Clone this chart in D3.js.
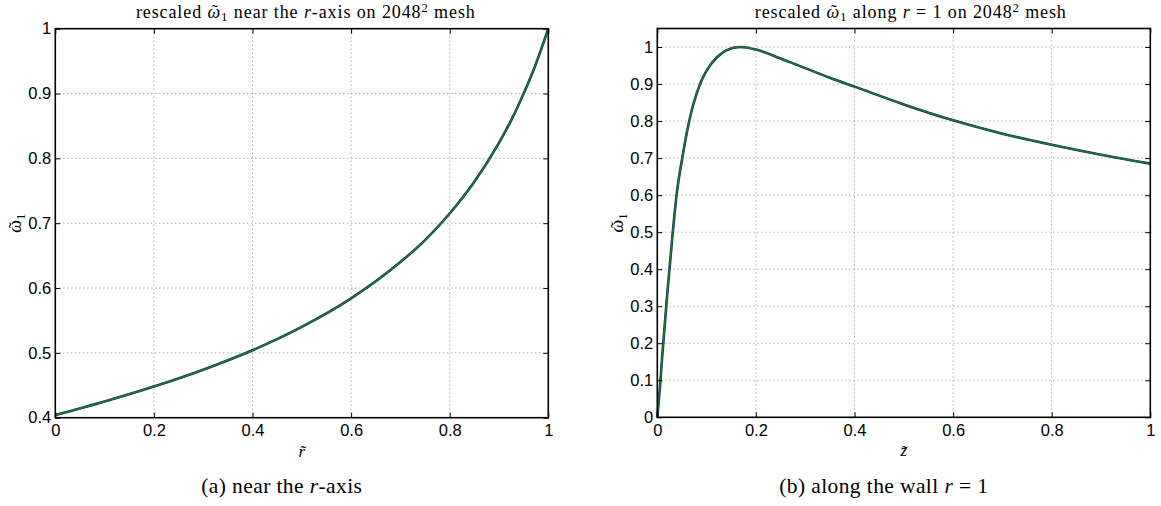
<!DOCTYPE html>
<html>
<head>
<meta charset="utf-8">
<script src="https://cdn.jsdelivr.net/npm/d3@7"></script>
<style>
  body { margin: 0; background: #fff; }
  .tick-label { font-family: "Liberation Sans", Arial, sans-serif; font-size: 16.5px; fill: #000; }
  .tex { font-family: "Liberation Serif", "DejaVu Serif", serif; fill: #000; }
</style>
</head>
<body>
<svg id="chart" width="1161" height="506"></svg>
<script>
// panel (a): rescaled omega_1 near the r-axis
const rAxisR = [0, 0.1, 0.2, 0.3, 0.4, 0.5, 0.6, 0.7, 0.75, 0.8, 0.85, 0.9, 0.925, 0.95, 0.975, 1.0];
const rAxisW = [0.404, 0.425, 0.448, 0.474, 0.504, 0.540, 0.584, 0.640, 0.674, 0.715, 0.764, 0.824, 0.859, 0.900, 0.946, 1.0];

// panel (b): rescaled omega_1 along the wall r = 1
const wallZ = [0, 0.005, 0.01, 0.02, 0.03, 0.04, 0.05, 0.06, 0.07, 0.08, 0.09, 0.1, 0.12, 0.14, 0.168,
               0.2, 0.25, 0.3, 0.35, 0.4, 0.5, 0.6, 0.7, 0.8, 0.9, 1.0];
const wallW = [0, 0.075, 0.165, 0.33, 0.48, 0.61, 0.695, 0.77, 0.83, 0.875, 0.91, 0.936, 0.971, 0.991, 1.0,
               0.993, 0.969, 0.943, 0.917, 0.893, 0.845, 0.802, 0.766, 0.736, 0.709, 0.685];

const xTicks = [0, 0.2, 0.4, 0.6, 0.8, 1];
const yTicksA = [0.4, 0.5, 0.6, 0.7, 0.8, 0.9, 1];
const yTicksB = [0, 0.1, 0.2, 0.3, 0.4, 0.5, 0.6, 0.7, 0.8, 0.9, 1];

const svg = d3.select("#chart");
const fmt = d => d === 0 ? "0" : d === 1 ? "1" : String(+d.toFixed(1));

// append tex-like pieces as tspans; {omega:true} draws ω with a tilde on top and subscript 1
function richText(sel, parts, fs) {
  let shift = 0;
  parts.forEach(p => {
    if (p.omega) {
      const om = sel.append("tspan").attr("font-style", "italic").attr("dy", -shift).text("ω");
      shift = 0;
      const wo = om.node().getComputedTextLength();
      const ti = sel.append("tspan").text("˜");
      const wt = ti.node().getComputedTextLength();
      ti.attr("dx", -(wo + wt) / 2 + fs * 0.06).attr("dy", fs * 0.02);
      sel.append("tspan").attr("font-size", fs * 0.72)
        .attr("dx", (wo - wt) / 2 - fs * 0.06).attr("dy", fs * 0.2 - fs * 0.02).text("1");
      shift = fs * 0.2;
      return;
    }
    const t = sel.append("tspan").text(p.t);
    let dy = -shift;
    shift = 0;
    if (p.i) t.attr("font-style", "italic");
    if (p.sup) { t.attr("font-size", fs * 0.7); dy -= fs * 0.32; shift = -fs * 0.32; }
    if (dy) t.attr("dy", dy);
  });
}

function drawPanel(p) {
  const g = svg.append("g").attr("transform", `translate(${p.left},${p.top})`);
  const w = p.width, h = p.height;

  const x = d3.scaleLinear().domain([0, 1]).range([0, w]);
  const y = d3.scaleLinear().domain(p.yDomain).range([h, 0]);

  // grid
  g.append("g").selectAll("line")
    .data(xTicks.filter(t => t > 0 && t < 1))
    .join("line")
    .attr("x1", d => x(d)).attr("x2", d => x(d))
    .attr("y1", 0).attr("y2", h)
    .attr("stroke", "#888").attr("stroke-width", 1)
    .attr("stroke-dasharray", "1,3");

  g.append("g").selectAll("line")
    .data(p.yTicks.filter(t => t > p.yDomain[0] && t < p.yDomain[1]))
    .join("line")
    .attr("x1", 0).attr("x2", w)
    .attr("y1", d => y(d)).attr("y2", d => y(d))
    .attr("stroke", "#888").attr("stroke-width", 1)
    .attr("stroke-dasharray", "1,3");

  // curve: two overlapping solutions
  const line = d3.line()
    .x((d, i) => x(p.xs[i]))
    .y(d => y(d))
    .curve(d3.curveMonotoneX);

  g.append("path").datum(p.ys)
    .attr("d", line).attr("fill", "none")
    .attr("stroke", "#1b2a5c").attr("stroke-width", 2.6);
  g.append("path").datum(p.ys)
    .attr("d", line).attr("fill", "none")
    .attr("stroke", "#1a7a2c").attr("stroke-width", 1.5);

  // axes, MATLAB style: inward ticks on all four sides
  const tk = 5;
  g.append("g").attr("transform", `translate(0,${h})`)
    .call(d3.axisBottom(x).tickValues(xTicks).tickSize(-tk).tickFormat(fmt).tickPadding(7))
    .call(a => a.select(".domain").remove());
  g.append("g")
    .call(d3.axisTop(x).tickValues(xTicks).tickSize(-tk).tickFormat(""))
    .call(a => a.select(".domain").remove());
  g.append("g")
    .call(d3.axisLeft(y).tickValues(p.yTicks).tickSize(-tk).tickFormat(fmt).tickPadding(4))
    .call(a => a.select(".domain").remove());
  g.append("g").attr("transform", `translate(${w},0)`)
    .call(d3.axisRight(y).tickValues(p.yTicks).tickSize(-tk).tickFormat(""))
    .call(a => a.select(".domain").remove());

  g.selectAll(".tick text").attr("class", "tick-label").attr("font-family", null).attr("font-size", null);
  g.selectAll(".tick line").attr("stroke", "#000").attr("stroke-width", 1);

  g.append("rect")
    .attr("width", w).attr("height", h)
    .attr("fill", "none").attr("stroke", "#000").attr("stroke-width", 1.6);

  // title
  const title = g.append("text").attr("class", "tex")
    .attr("x", w / 2 + p.titleDx).attr("y", -11)
    .attr("text-anchor", "middle").attr("font-size", 18)
    .attr("letter-spacing", 0.9);
  richText(title, p.title, 18);

  // x label
  g.append("text").attr("class", "tex")
    .attr("x", w / 2).attr("y", h + 39)
    .attr("text-anchor", "middle").attr("font-size", 17)
    .attr("font-style", "italic").text(p.xLabel);

  // y label
  const yl = g.append("text").attr("class", "tex")
    .attr("transform", `translate(${p.yLabelX},${h / 2}) rotate(-90)`)
    .attr("text-anchor", "middle").attr("font-size", 18);
  richText(yl, [{ omega: true }], 18);

  // caption
  const cap = svg.append("text").attr("class", "tex")
    .attr("x", p.left + w / 2 + p.capDx).attr("y", 493)
    .attr("text-anchor", "middle").attr("font-size", 21.5)
    .attr("letter-spacing", 0.4);
  richText(cap, p.caption, 21.5);
}

drawPanel({
  left: 55.3, top: 28.7, width: 493, height: 389,
  yDomain: [0.4, 1], yTicks: yTicksA,
  xs: rAxisR, ys: rAxisW,
  xLabel: "r̃", yLabelX: -34,
  titleDx: 4, capDx: -20,
  title: [
    { t: "rescaled " }, { omega: true },
    { t: " near the " }, { t: "r", i: true }, { t: "-axis on 2048" },
    { t: "2", sup: true }, { t: " mesh" }
  ],
  caption: [{ t: "(a)  near the " }, { t: "r", i: true }, { t: "-axis" }]
});

drawPanel({
  left: 657.3, top: 28.5, width: 493, height: 388.8,
  yDomain: [0, 1.05], yTicks: yTicksB,
  xs: wallZ, ys: wallW,
  xLabel: "z̃", yLabelX: -34,
  titleDx: 7, capDx: -20,
  title: [
    { t: "rescaled " }, { omega: true },
    { t: " along " }, { t: "r", i: true }, { t: " = 1 on 2048" },
    { t: "2", sup: true }, { t: " mesh" }
  ],
  caption: [{ t: "(b)  along the wall " }, { t: "r", i: true }, { t: " = 1" }]
});
</script>
</body>
</html>
